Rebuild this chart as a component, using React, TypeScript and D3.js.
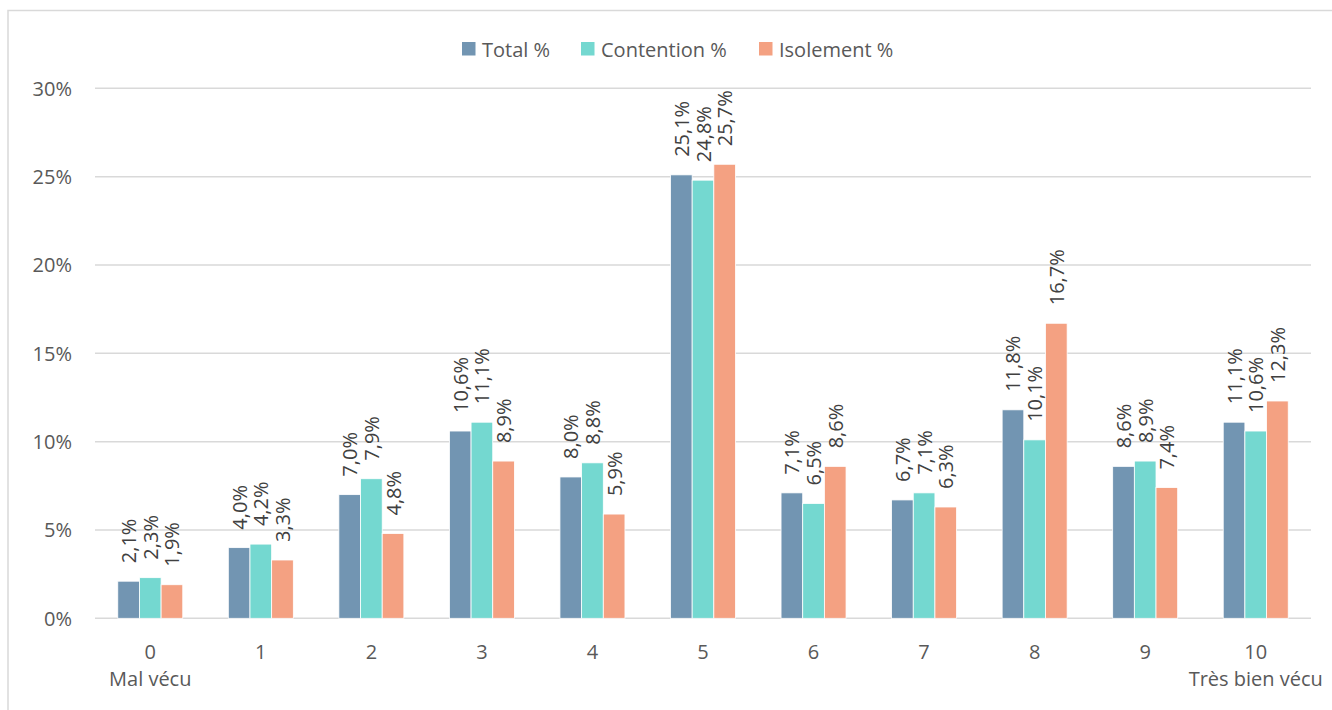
import React from "react";
import * as d3 from "d3";

// Scores from 0 (badly lived) to 10 (very well lived)
const categories = ["0", "1", "2", "3", "4", "5", "6", "7", "8", "9", "10"];
const subLabels: Record<string, string> = { "0": "Mal vécu", "10": "Très bien vécu" };

const seriesNames = ["Total %", "Contention %", "Isolement %"];
const totalValues = [2.1, 4.0, 7.0, 10.6, 8.0, 25.1, 7.1, 6.7, 11.8, 8.6, 11.1];
const contentionValues = [2.3, 4.2, 7.9, 11.1, 8.8, 24.8, 6.5, 7.1, 10.1, 8.9, 10.6];
const isolementValues = [1.9, 3.3, 4.8, 8.9, 5.9, 25.7, 8.6, 6.3, 16.7, 7.4, 12.3];
const yTicks = [0, 5, 10, 15, 20, 25, 30];

const colors = ["#7295B2", "#74D8D0", "#F4A182"];
const seriesValues = [totalValues, contentionValues, isolementValues];

const W = 1332;
const H = 710;
const FONT = "'Open Sans', 'Noto Sans', sans-serif";

export default function App() {
  const x = d3
    .scaleBand<string>()
    .domain(categories)
    .range([95, 1311])
    .paddingInner(0.412)
    .paddingOuter(0.206);
  const xs = d3
    .scaleBand<string>()
    .domain(seriesNames)
    .range([0, x.bandwidth()]);
  const y = d3.scaleLinear().domain([0, 30]).range([618.3, 88.3]);
  const fmt = (v: number) => v.toFixed(1).replace(".", ",") + "%";

  const legendPos = [462, 581, 759];

  return (
    <svg
      width={W}
      height={H}
      style={{ position: "absolute", left: 0, top: 0, background: "#fff" }}
      fontFamily={FONT}
    >
      {/* chart frame */}
      <rect x={8} y={10.5} width={W + 10} height={H + 10} fill="#fff" stroke="#d9d9d9" strokeWidth={1.5} />

      {/* gridlines and y labels */}
      {yTicks.map((t) => (
        <g key={t}>
          <line x1={95} x2={1311} y1={y(t)} y2={y(t)} stroke="#d9d9d9" strokeWidth={1.5} />
          <text
            x={72}
            y={y(t)}
            textAnchor="end"
            dominantBaseline="central"
            fontSize={20}
            fill="#595959"
          >
            {t}%
          </text>
        </g>
      ))}

      {/* bars */}
      {categories.map((c, i) => (
        <g key={c} transform={`translate(${x(c)},0)`}>
          {seriesNames.map((s, k) => {
            const v = seriesValues[k][i];
            const bx = xs(s)!;
            return (
              <rect
                key={s}
                x={bx}
                y={y(v)}
                width={xs.bandwidth()}
                height={y(0) - y(v)}
                fill={colors[k]}
                stroke="#fff"
                strokeWidth={0.8}
              />
            );
          })}
          {seriesNames.map((s, k) => {
            const v = seriesValues[k][i];
            const cx = xs(s)! + xs.bandwidth() / 2;
            const ty = y(v) - 18;
            return (
              <text
                key={s + "l"}
                transform={`translate(${cx},${ty}) rotate(-90)`}
                textAnchor="start"
                dominantBaseline="central"
                fontSize={20}
                fill="#404040"
              >
                {fmt(v)}
              </text>
            );
          })}
        </g>
      ))}

      {/* category labels */}
      {categories.map((c) => {
        const cx = x(c)! + x.bandwidth() / 2;
        return (
          <g key={c + "t"}>
            <text x={cx} y={659} textAnchor="middle" fontSize={20} fill="#595959">
              {c}
            </text>
            {subLabels[c] && (
              <text x={cx} y={686} textAnchor="middle" fontSize={20} fill="#595959">
                {subLabels[c]}
              </text>
            )}
          </g>
        );
      })}

      {/* legend */}
      {seriesNames.map((s, k) => (
        <g key={s + "leg"}>
          <rect x={legendPos[k]} y={42} width={13.5} height={13.5} fill={colors[k]} />
          <text
            x={legendPos[k] + 20}
            y={49}
            dominantBaseline="central"
            fontSize={20}
            fill="#595959"
          >
            {s}
          </text>
        </g>
      ))}
    </svg>
  );
}
